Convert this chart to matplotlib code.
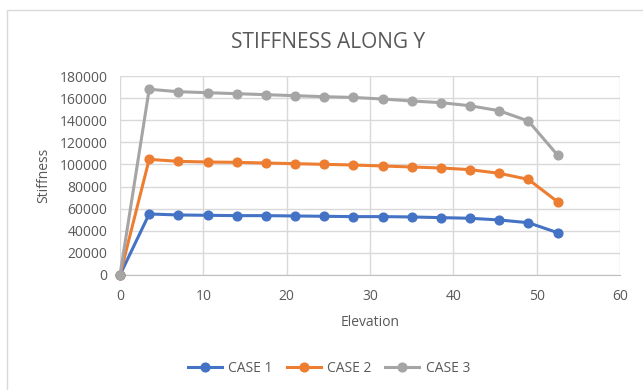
import matplotlib.pyplot as plt
from matplotlib.patches import Rectangle

# elevation of each storey level
elevation = [0, 3.5, 7, 10.5, 14, 17.5, 21, 24.5, 28, 31.5, 35, 38.5, 42, 45.5, 49, 52.5]

case1 = [0, 55200, 54300, 54000, 53700, 53700, 53400, 53100, 52800,
         52800, 52500, 51900, 51300, 49800, 47300, 38300]
case2 = [0, 104600, 102800, 102200, 101900, 101300, 100700, 100100, 99500,
         98600, 97700, 96800, 95300, 92000, 86500, 66300]
case3 = [0, 168000, 165800, 164900, 164000, 163100, 162200, 161300, 160600,
         159200, 157400, 155900, 153100, 148600, 139300, 108500]

series_names = ['CASE 1', 'CASE 2', 'CASE 3']
colors = ['#4472C4', '#ED7D31', '#A5A5A5']

txt = '#595959'
plt.rcParams['font.family'] = ['Open Sans', 'DejaVu Sans']

fig = plt.figure(figsize=(6.43, 3.9), dpi=100)
ax = fig.add_axes([120/643, 1 - 275/390, 500/643, 199/390])

# chart frame
fig.patches.append(Rectangle((7/643, -0.2), 1.2, 1.2 - 10/390,
                             transform=fig.transFigure, fill=False,
                             edgecolor='#d9d9d9', linewidth=1.0))

for ys, c, name in zip([case1, case2, case3], colors, series_names):
    ax.plot(elevation, ys, color=c, lw=2.2, marker='o', ms=6.3, label=name,
            zorder=3, clip_on=False)

ax.set_xlim(0, 60)
ax.set_ylim(0, 180000)
ax.set_xticks(range(0, 61, 10))
ax.set_yticks(range(0, 180001, 20000))
ax.grid(True, color='#d9d9d9', lw=1.0)
ax.set_axisbelow(True)
for s in ['top', 'right', 'left']:
    ax.spines[s].set_visible(False)
ax.spines['bottom'].set_color('#bfbfbf')
ax.tick_params(length=0, labelsize=10, colors=txt)
ax.tick_params(axis='x', pad=10)
ax.tick_params(axis='y', pad=9)

ax.set_xlabel('Elevation', fontsize=10, color=txt, labelpad=8)
ax.set_ylabel('Stiffness', fontsize=10, color=txt, labelpad=6)
fig.text(328/643, 1 - 42/390, 'STIFFNESS ALONG Y',
         fontsize=15, color=txt, ha='center', va='center')

fig.legend(loc='center', bbox_to_anchor=(329/643, 1 - 368/390), ncol=3,
           frameon=False, fontsize=10, labelcolor=txt, handlelength=2.45,
           columnspacing=1.0, handletextpad=0.45)

fig.savefig('out.png', dpi=100)
